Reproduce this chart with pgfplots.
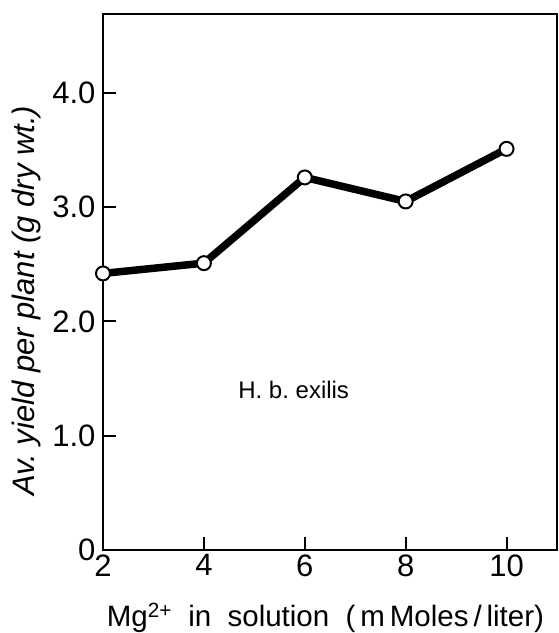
\documentclass[border=0pt]{standalone}
\usepackage{fontspec}
\setmainfont{Liberation Sans}
\usepackage{pgfplots}
\pgfplotsset{compat=1.18}

\begin{document}
\begin{tikzpicture}
% keep the page the same frame as the reference (1px = 1pt)
\path[use as bounding box] (-103pt,-83pt) rectangle (456pt,550pt);
\begin{axis}[
  at={(0,0)}, anchor=south west,
  scale only axis,
  width=454pt, height=536pt,
  xmin=2, xmax=11,
  ymin=0, ymax=4.69,
  axis line style={line width=2pt},
  tick pos=left,
  tick align=inside,
  major tick length=13pt,
  every tick/.style={black, line width=2pt},
  xtick={2,4,6,8,10},
  xticklabels={2,4,6,8,10},
  ytick={0,1,2,3,4},
  yticklabels={0,1.0,2.0,3.0,4.0},
  tick label style={font=\fontsize{31}{31}\selectfont},
  xticklabel style={yshift=-1pt},
  yticklabel style={xshift=-4pt},
  xlabel={Mg\textsuperscript{2+}\ \ in\ \ solution\ \ (\,m\,Moles\,/\,liter)},
  xlabel style={at={(axis description cs:0.49,-0.142)}, anchor=base,
    font=\fontsize{29.5}{29.5}\selectfont},
  ylabel={Av.\ yield per plant (g dry wt.)},
  ylabel style={at={(axis description cs:-0.168,0.465)}, anchor=center, rotate=0,
    font=\itshape\fontsize{31}{31}\selectfont},
  clip=false,
]
\addplot [black, line width=7.5pt, mark=*, mark size=7pt,
  mark options={solid, fill=white, draw=black, line width=2pt}]
coordinates {
(2,2.42)
(4,2.51)
(6,3.26)
(8,3.05)
(10,3.51)
};
\node[font=\fontsize{24}{24}\selectfont] at (axis cs:5.78,1.40) {H.\ b.\ exilis};
\end{axis}
\end{tikzpicture}
\end{document}
